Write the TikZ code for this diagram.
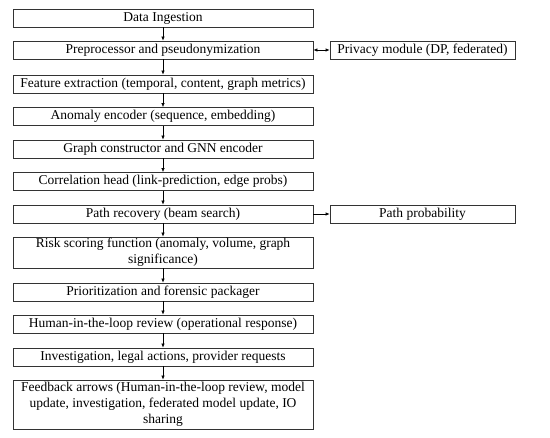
\documentclass[tikz,border=0pt]{standalone}
\usepackage{fontspec}
\setmainfont{Liberation Serif}
\usetikzlibrary{arrows.meta}
\begin{document}
\begin{tikzpicture}[x=1pt,y=-1pt,
  box/.style={draw=black!80,line width=0.6pt,inner sep=0pt,align=center,font=\fontsize{13.5}{16}\selectfont},
  arr/.style={-{Latex[length=4pt,width=3.2pt]},line width=0.6pt},
  darr/.style={{Latex[length=4pt,width=3.2pt]}-{Latex[length=4pt,width=3.2pt]},line width=0.6pt}]
\useasboundingbox (0,0) rectangle (550,438);
\node[box,minimum width=300pt,minimum height=18pt] (b1) at (163,18) {Data Ingestion};
\node[box,minimum width=300pt,minimum height=18pt] (b2) at (163,50) {Preprocessor and pseudonymization};
\node[box,minimum width=300pt,minimum height=18pt] (b3) at (163,84) {Feature extraction (temporal, content, graph metrics)};
\node[box,minimum width=300pt,minimum height=18pt] (b4) at (163,116.5) {Anomaly encoder (sequence, embedding)};
\node[box,minimum width=300pt,minimum height=18pt] (b5) at (163,149) {Graph constructor and GNN encoder};
\node[box,minimum width=300pt,minimum height=18pt] (b6) at (163,181.5) {Correlation head (link-prediction, edge probs)};
\node[box,minimum width=300pt,minimum height=18pt] (b7) at (163,214) {Path recovery (beam search)};
\node[box,minimum width=300pt,minimum height=31pt] (b8) at (163,252.5) {Risk scoring function (anomaly, volume, graph\\significance)};
\node[box,minimum width=300pt,minimum height=18pt] (b9) at (163,292) {Prioritization and forensic packager};
\node[box,minimum width=300pt,minimum height=18pt] (b10) at (163,324) {Human-in-the-loop review (operational response)};
\node[box,minimum width=300pt,minimum height=18pt] (b11) at (163,357) {Investigation, legal actions, provider requests};
\node[box,minimum width=300pt,minimum height=49pt] (b12) at (163,404.5) {Feedback arrows (Human-in-the-loop review, model\\update, investigation, federated model update, IO\\sharing};
\node[box,minimum width=185pt,minimum height=18pt] (p1) at (422.5,50) {Privacy module (DP, federated)};
\node[box,minimum width=185pt,minimum height=18pt] (p2) at (422.5,214) {Path probability};
\foreach \a/\b in {b1/b2,b2/b3,b3/b4,b4/b5,b5/b6,b6/b7,b7/b8,b8/b9,b9/b10,b10/b11,b11/b12}
  \draw[arr] (\a) -- (\b);
\draw[darr] (b2) -- (p1);
\draw[arr] (b7) -- (p2);
\end{tikzpicture}
\end{document}
